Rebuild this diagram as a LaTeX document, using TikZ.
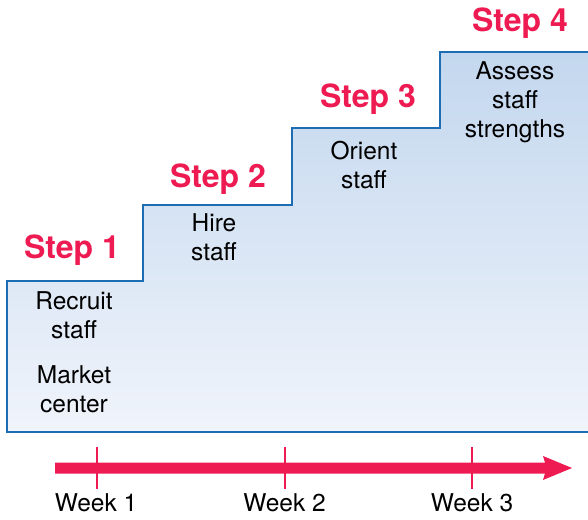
\documentclass[tikz,border=0pt]{standalone}
\usepackage{fontspec}
\setmainfont{TeX Gyre Heros}
\definecolor{pinkred}{HTML}{EE1A52}
\definecolor{stairblue}{HTML}{1C6DB4}
\definecolor{topfill}{HTML}{C3D7EE}
\definecolor{botfill}{HTML}{F0F4FB}
\begin{document}
\begin{tikzpicture}[x=1pt,y=-1pt,
  steplabel/.style={text=pinkred,font=\fontsize{32}{32}\selectfont\bfseries,anchor=base,inner sep=0pt},
  bodytext/.style={font=\fontsize{24.5}{29}\selectfont,align=center,anchor=base,inner sep=0pt},
  weektext/.style={font=\fontsize{24.5}{24.5}\selectfont,anchor=base,inner sep=0pt},
  tickmark/.style={draw=pinkred,line width=2pt}]
\useasboundingbox (0,0) rectangle (588,519);
% staircase fill
\shade[top color=topfill,bottom color=botfill]
  (588,52) -- (440,52) -- (440,128) -- (292,128) -- (292,205) -- (143,205)
  -- (143,281) -- (7,281) -- (7,432) -- (588,432) -- cycle;
\draw[stairblue,line width=2pt]
  (588,52) -- (440,52) -- (440,128) -- (292,128) -- (292,205) -- (143,205)
  -- (143,281) -- (7,281) -- (7,432) -- (588,432);
% step labels
\node[steplabel] (s1) at (72,258) {Step 1};
\node[steplabel] (s2) at (218,187) {Step 2};
\node[steplabel] (s3) at (368,107) {Step 3};
\node[steplabel] (s4) at (520,32) {Step 4};
% body texts (base anchor = last line baseline)
\node[bodytext] (t1) at (74,338) {Recruit\\staff};
\node[bodytext] (t1b) at (74,412) {Market\\center};
\node[bodytext] (t2) at (214,260) {Hire\\staff};
\node[bodytext] (t3) at (364,188) {Orient\\staff};
\node[bodytext] (t4) at (515,137) {Assess\\staff\\strengths};
% timeline
\coordinate (ta) at (55,468);
\coordinate (tip) at (572,468);
\fill[pinkred] (ta) ++(0,-5.5) -- (545,462.5) -- (543,456) -- (tip) -- (543,480) -- (545,473.5) -- (55,473.5) -- cycle;
\draw[tickmark] (97,447) -- (97,489);
\draw[tickmark] (285,447) -- (285,489);
\draw[tickmark] (472,447) -- (472,489);
\node[weektext] (w1) at (96,511) {Week 1};
\node[weektext] (w2) at (284.5,511) {Week 2};
\node[weektext] (w3) at (472,511) {Week 3};
\end{tikzpicture}
\end{document}
